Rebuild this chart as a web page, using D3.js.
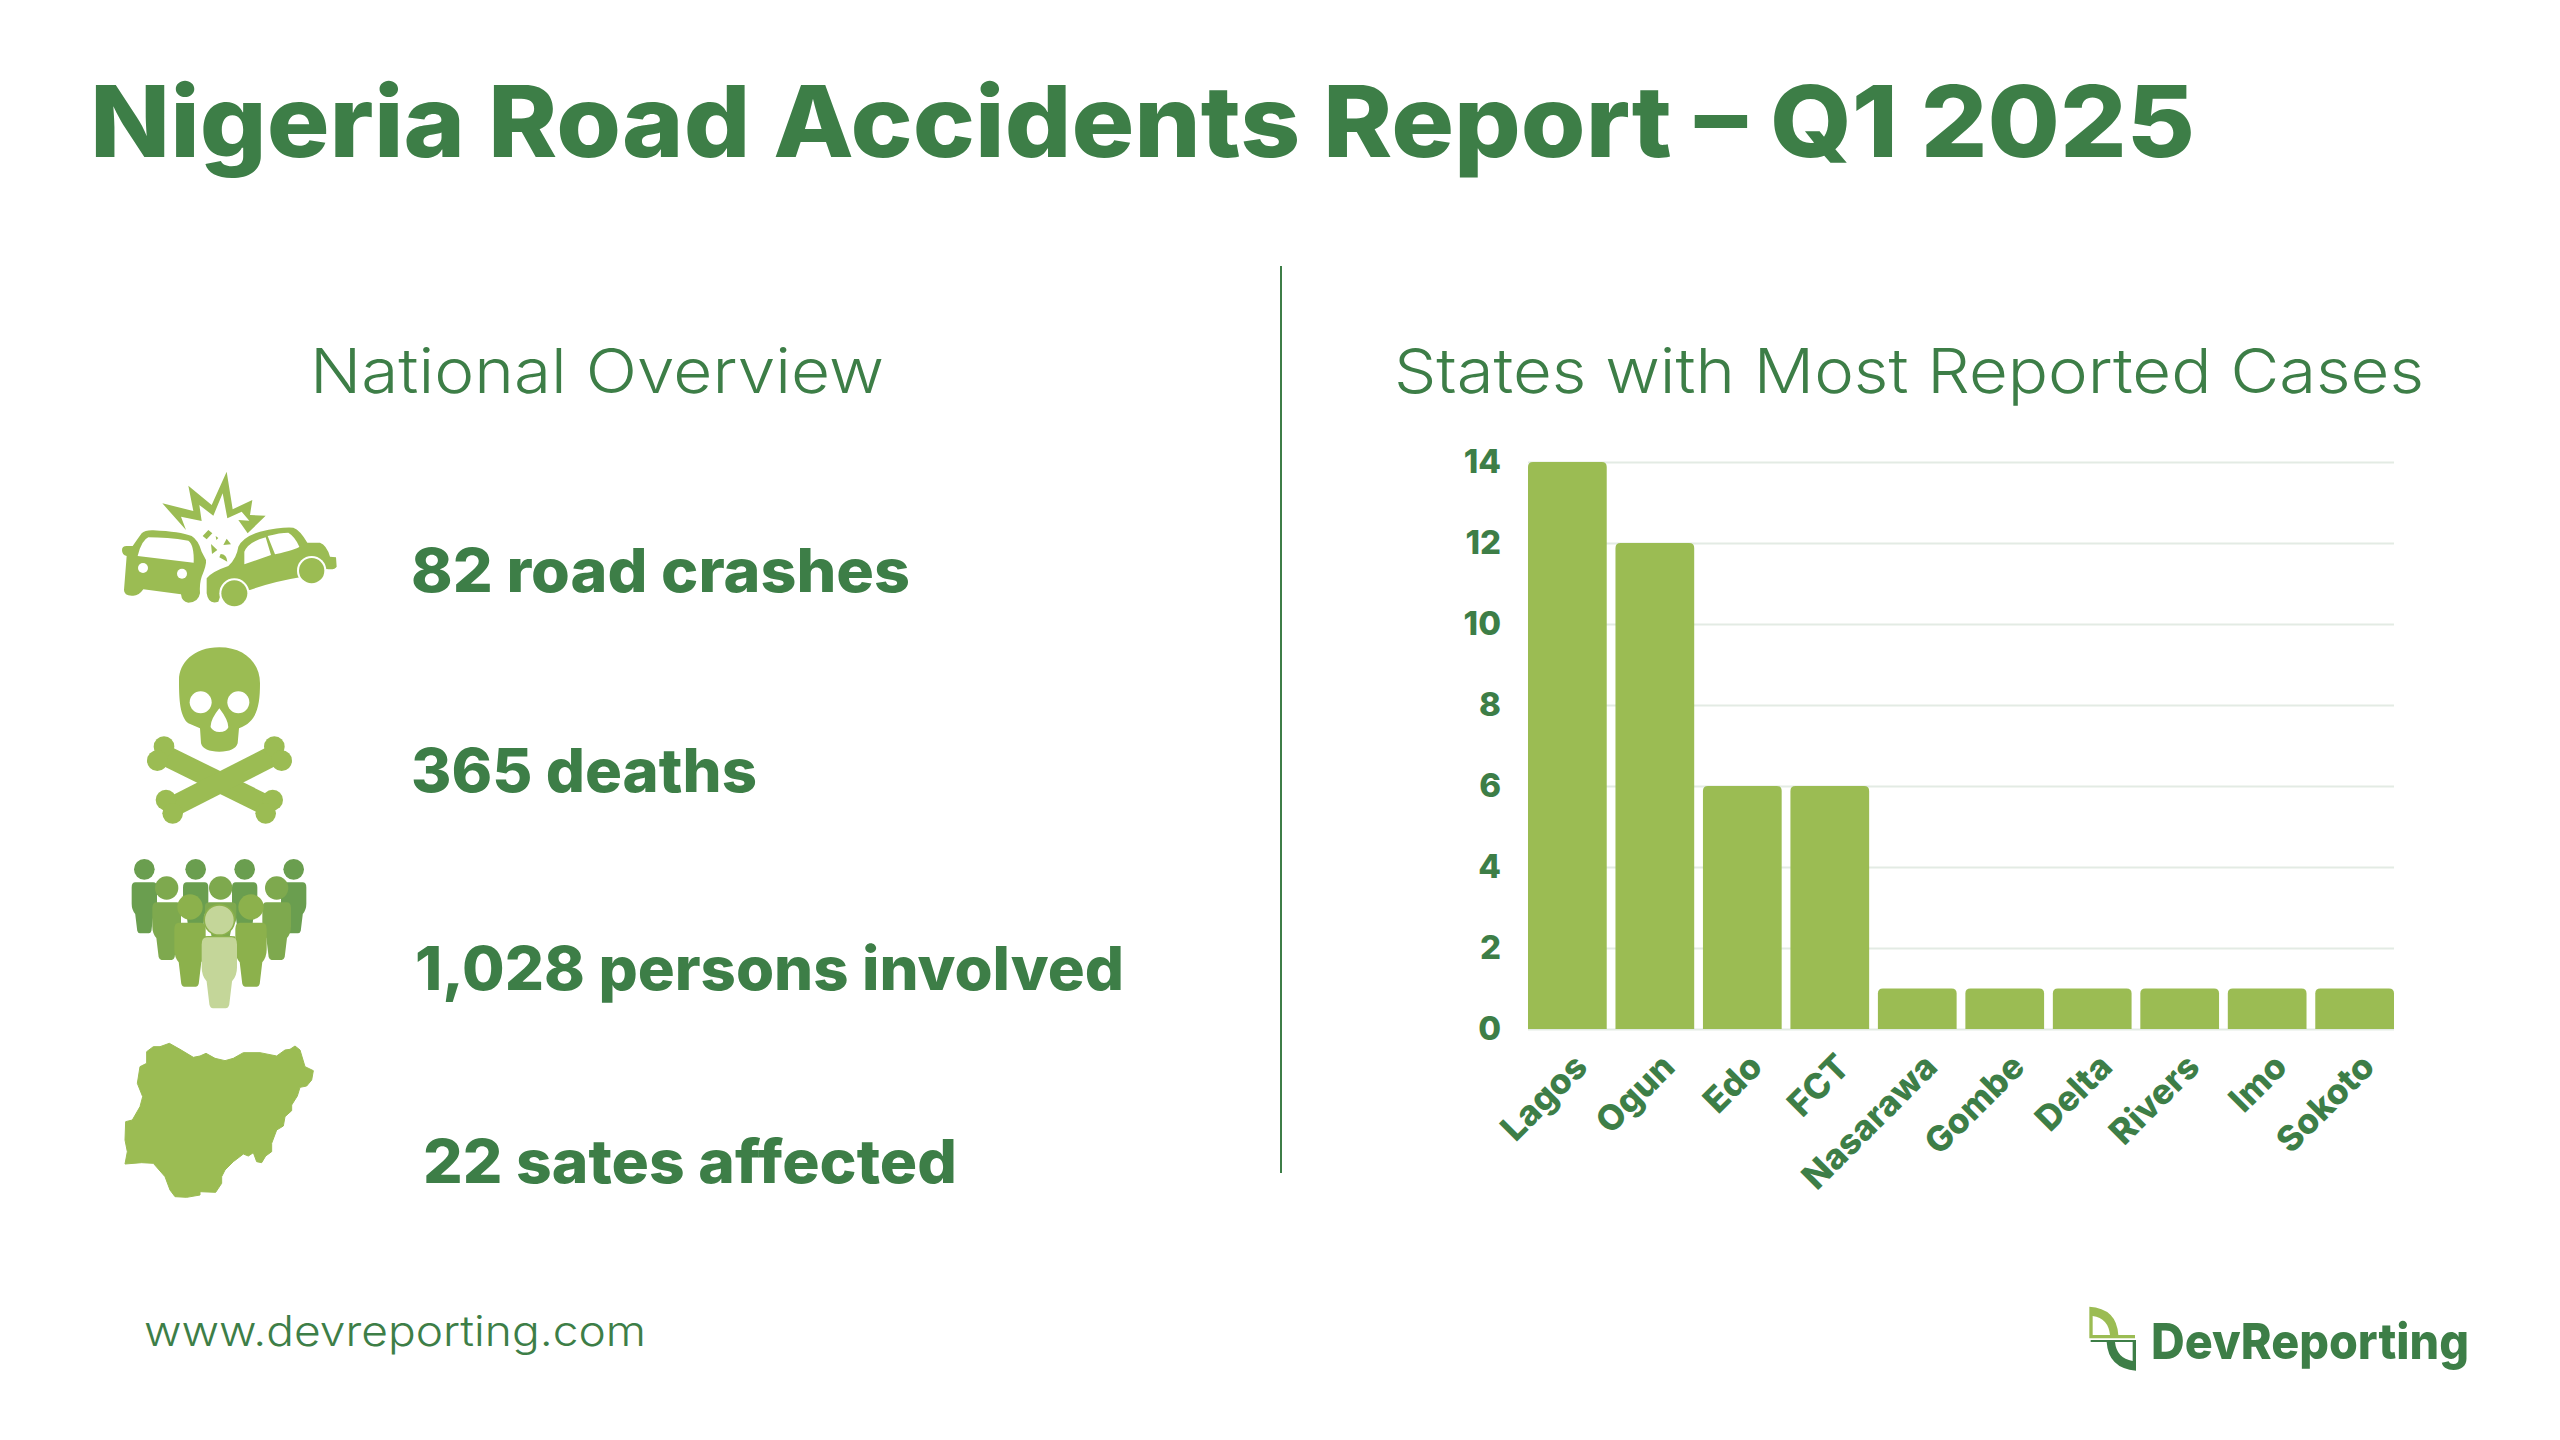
<!DOCTYPE html>
<html><head><meta charset="utf-8">
<script src="https://cdn.jsdelivr.net/npm/d3@7"></script>
<style>html,body{margin:0;padding:0;background:#fff}svg{display:block}</style>
</head><body><div id="c"></div>
<script>
const states = ["Lagos","Ogun","Edo","FCT","Nasarawa","Gombe","Delta","Rivers","Imo","Sokoto"];
const cases = [14,12,6,6,1,1,1,1,1,1];
const yTicks = [0,2,4,6,8,10,12,14];
const statLabels = ["82 road crashes","365 deaths","1,028 persons involved","22 sates affected"];

const DARK="#3d7e47", LIGHT="#9bbc53", FONT="Inter, 'Open Sans', sans-serif";
const svg=d3.select("#c").append("svg").attr("width",2560).attr("height",1440).attr("viewBox","0 0 2560 1440");
svg.append("rect").attr("width",2560).attr("height",1440).attr("fill","#fff");

function txt(s,x,y,size,weight,len,anchor){
  return svg.append("text").text(s).attr("x",x).attr("y",y).attr("font-family",FONT)
    .attr("font-size",size).attr("font-weight",weight).attr("fill",DARK)
    .attr("text-anchor",anchor||"start").attr("textLength",len).attr("lengthAdjust","spacingAndGlyphs");
}
txt("Nigeria Road Accidents Report – Q1 2025",90,157,99,800,2105);
txt("National Overview",310,393,62,300,574);
txt("States with Most Reported Cases",1394,393,62,300,1030);
txt("www.devreporting.com",144,1346,42,300,502);
txt("DevReporting",2151,1359,50,800,318);

svg.append("line").attr("x1",1281).attr("x2",1281).attr("y1",266).attr("y2",1173).attr("stroke",DARK).attr("stroke-width",2);

const statPos=[[411,592,499],[411,792,346],[415,990,709],[423,1183,534]];
statLabels.forEach((s,i)=>txt(s,statPos[i][0],statPos[i][1],60,800,statPos[i][2]));

// ---- chart
const x=d3.scaleBand().domain(states).range([1528,2394]).paddingInner(0.1).paddingOuter(0);
const y=d3.scaleLinear().domain([0,14]).range([1029,462]);
const gy=svg.append("g").attr("transform","translate(1528,0)")
  .call(d3.axisLeft(y).tickValues(yTicks).tickSize(-866).tickPadding(27).tickFormat(d3.format("d")));
gy.select(".domain").remove();
gy.selectAll(".tick line").attr("stroke","#e3ebe4").attr("stroke-width",2);
gy.selectAll(".tick text").attr("font-family",FONT).attr("font-size",33).attr("font-weight",800).attr("fill",DARK).attr("dy","0.33em");

const r=5;
svg.append("g").selectAll("path").data(states).join("path")
  .attr("fill",LIGHT)
  .attr("d",(d,i)=>{
    const p=d3.path(), a=x(d), b=a+x.bandwidth(), t=y(cases[i]), z=y(0);
    p.moveTo(a,z); p.lineTo(a,t+r); p.quadraticCurveTo(a,t,a+r,t); p.lineTo(b-r,t); p.quadraticCurveTo(b,t,b,t+r); p.lineTo(b,z); p.closePath();
    return p.toString();
  });

const gx=svg.append("g").attr("transform","translate(0,1029)").call(d3.axisBottom(x).tickSize(0));
gx.select(".domain").remove();
gx.selectAll(".tick text").attr("font-family",FONT).attr("font-size",35).attr("font-weight",800).attr("fill",DARK)
  .attr("text-anchor","end").attr("dx",0).attr("dy",0)
  .attr("transform","translate(22,40) rotate(-45)").attr("y",0);

// ---- icons (traced at 3x of the source, then placed by offset)
function icon(ox,oy){return svg.append("g").attr("transform",`translate(${ox},${oy}) scale(${1/3})`);}
const crash=icon(100,450);
crash.append("path").attr("fill",LIGHT).attr("d","M380 65 L398 178 L457 150 L450 195 L497 197 L443 250 L415 210 L448 212 L425 185 L382 205 L368 130 L340 197 L298 165 L305 213 L243 200 L258 240 L187 160 L280 183 L265 107 L335 165 Z");
crash.append("path").attr("fill",LIGHT).attr("fill-rule","evenodd").attr("d","M66 300 Q66 288 80 288 L98 288 Q112 268 125 250 Q135 240 160 241 Q240 245 275 258 Q295 270 305 305 L318 330 Q320 345 305 380 Q298 400 300 430 Q295 458 265 458 Q245 455 243 433 L130 418 Q115 440 95 437 Q72 437 72 420 L80 318 Q66 315 66 300 Z M113 318 Q125 270 145 262 Q200 262 265 272 Q283 285 281 338 Z");
crash.selectAll("circle.h").data([[129,354],[246,371]]).join("circle").attr("cx",d=>d[0]).attr("cy",d=>d[1]).attr("r",15).attr("fill","#fff");
crash.append("path").attr("fill",LIGHT).attr("fill-rule","evenodd").attr("d","M320 385 Q335 365 385 348 Q410 325 415 290 Q430 260 480 245 Q545 230 580 233 Q600 240 622 278 L660 278 Q680 285 690 320 L708 322 L710 350 Q705 360 680 357 L600 382 Q520 395 450 420 L370 410 L355 455 Q325 465 320 430 Z M433 343 L433 305 Q445 275 497 262 L513 315 Z M503 258 Q540 248 565 248 Q585 260 598 290 Q590 298 525 313 Z");
[[635,362,38],[403,430,39]].forEach(c=>{
  crash.append("circle").attr("cx",c[0]).attr("cy",c[1]).attr("r",c[2]+6).attr("fill","#fff");
  crash.append("circle").attr("cx",c[0]).attr("cy",c[1]).attr("r",c[2]).attr("fill",LIGHT);
});
crash.append("path").attr("fill",LIGHT).attr("d","M325 240 L337 250 L320 268 L308 258 Z M347 258 L355 264 L349 270 Z M380 266 L393 283 L370 285 Z M333 282 L352 300 L336 312 Z M362 312 Q380 312 382 335 L358 322 Z");

const skull=icon(100,450);
skull.append("path").attr("fill",LIGHT).attr("fill-rule","evenodd").attr("d","M358 592 C280 592 237 640 237 690 C237 750 240 800 265 820 L300 835 L303 880 Q310 905 358 905 Q405 905 413 880 L417 835 C470 815 480 770 480 700 C480 640 435 592 358 592 Z M358 775 Q330 810 332 832 Q340 846 358 846 Q380 846 385 832 Q385 810 358 775 Z");
skull.selectAll("circle.e").data([[302,757],[415,757]]).join("circle").attr("cx",d=>d[0]).attr("cy",d=>d[1]).attr("r",33).attr("fill","#fff");
[[182,910,508,1070],[533,910,218,1070]].forEach(b=>{
  skull.append("line").attr("x1",b[0]).attr("y1",b[1]).attr("x2",b[2]).attr("y2",b[3]).attr("stroke",LIGHT).attr("stroke-width",62);
});
skull.selectAll("circle.k").data([[192,890],[172,932],[523,890],[545,932],[198,1050],[218,1090],[518,1050],[497,1090]]).join("circle")
  .attr("cx",d=>d[0]).attr("cy",d=>d[1]).attr("r",31).attr("fill",LIGHT);

const people=icon(100,840);
function person(cx,headY,headR,top,bottom,w,fill){
  people.append("circle").attr("cx",cx).attr("cy",headY).attr("r",headR).attr("fill",fill);
  const h=bottom-top, X=v=>cx+v*w, Y=v=>top+v*h;
  people.append("path").attr("fill",fill).attr("d",
    `M${X(-1)} ${Y(.1)} Q${X(-1)} ${Y(0)} ${X(-.7)} ${Y(0)} L${X(.7)} ${Y(0)} Q${X(1)} ${Y(0)} ${X(1)} ${Y(.1)} L${X(1)} ${Y(.42)} Q${X(1)} ${Y(.54)} ${X(.72)} ${Y(.62)} L${X(.56)} ${Y(.95)} Q${X(.5)} ${Y(1)} ${X(.36)} ${Y(1)} L${X(-.36)} ${Y(1)} Q${X(-.5)} ${Y(1)} ${X(-.56)} ${Y(.95)} L${X(-.72)} ${Y(.62)} Q${X(-1)} ${Y(.54)} ${X(-1)} ${Y(.42)} Z`);
}
[133,287,434,581].forEach(c=>person(c,88,31,127,280,38,"#6a9e4f"));
[200,530].forEach(c=>person(c,144,35,187,360,43,"#7ea94e"));
person(362,144,35,187,300,47,"#7ea94e");
[270,453].forEach(c=>person(c,201,38,248,440,47,"#8cb14c"));
person(358,240,48,288,320,48,"#8cb14c");
person(358,240,43,292,505,53,"#c4d699");

const map=icon(100,840);
map.append("path").attr("fill",LIGHT).attr("stroke",LIGHT).attr("stroke-width",3).attr("stroke-linejoin","round")
 .attr("d","M140 635 L160 620 L180 620 L208 610 L240 628 L280 652 L300 648 L318 640 L345 655 L375 662 L400 655 L430 638 L480 638 L530 648 L555 630 L570 628 L585 618 L600 630 L615 680 L640 692 L635 720 L620 738 L600 742 L592 768 L575 795 L575 812 L555 830 L550 858 L530 870 L515 910 L515 935 L497 948 L485 968 L470 965 L460 938 L445 948 L430 942 L400 965 L375 990 L365 1010 L365 1030 L347 1057 L300 1055 L300 1065 L260 1072 L225 1070 L210 1050 L195 1010 L160 970 L125 968 L75 972 L82 935 L75 900 L77 845 L97 840 L120 800 L128 770 L112 730 L120 680 L140 670 Z");

const logo=icon(2060,1280);
logo.append("path").attr("fill",LIGHT).attr("fill-rule","evenodd").attr("d","M88 80 Q170 85 175 165 L225 165 L225 175 L88 175 Z M98 108 L98 165 L150 165 Q145 115 98 108 Z");
logo.append("path").attr("fill",DARK).attr("fill-rule","evenodd").attr("d","M92 180 L228 180 L228 272 Q145 265 140 186 L92 186 Z M165 186 Q170 235 218 243 L218 186 Z");
</script></body></html>
